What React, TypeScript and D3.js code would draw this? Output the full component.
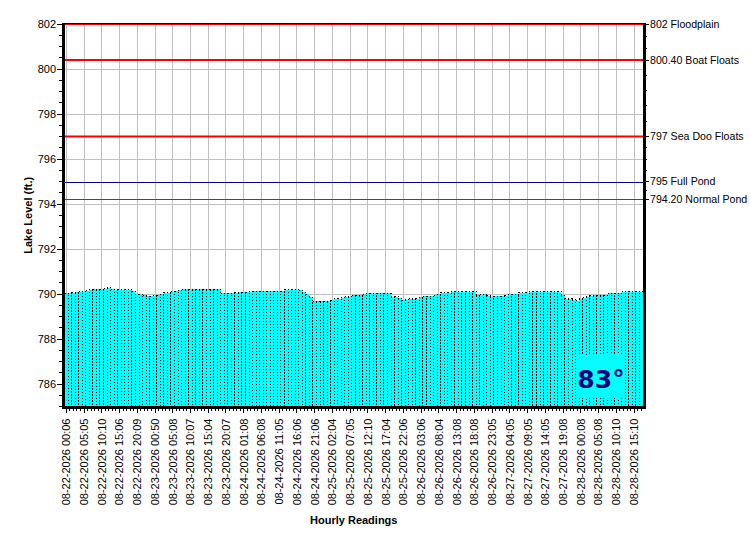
import { useEffect } from "react";
import * as d3 from "d3";

// hourly lake level readings (ft.)
const levels = [
  790.03, 790.04, 790.05, 790.07, 790.09, 790.1, 790.14, 790.18, 790.22, 790.22,
  790.22, 790.24, 790.27, 790.22, 790.18, 790.2, 790.18, 790.18, 790.18, 790.12,
  790.0, 790.0, 789.95, 789.9, 789.9, 789.92, 789.95, 789.98, 790.05, 790.06,
  790.1, 790.12, 790.16, 790.21, 790.21, 790.21, 790.21, 790.21, 790.21, 790.21,
  790.21, 790.21, 790.21, 790.21, 790.03, 790.03, 790.03, 790.03, 790.06, 790.08,
  790.08, 790.08, 790.1, 790.13, 790.13, 790.13, 790.13, 790.13, 790.13, 790.13,
  790.13, 790.13, 790.19, 790.19, 790.19, 790.19, 790.17, 790.08, 790.0, 789.85,
  789.68, 789.68, 789.68, 789.68, 789.68, 789.72, 789.78, 789.78, 789.84, 789.88,
  789.88, 789.95, 789.95, 789.95, 789.97, 790.03, 790.03, 790.03, 790.03, 790.03,
  790.03, 790.03, 789.88, 789.88, 789.82, 789.72, 789.75, 789.8, 789.8, 789.8,
  789.85, 789.9, 789.9, 789.9, 789.94, 789.98, 790.06, 790.06, 790.06, 790.09,
  790.09, 790.09, 790.09, 790.09, 790.09, 790.09, 789.95, 789.97, 790.0, 789.93,
  789.88, 789.9, 789.9, 789.9, 789.93, 790.0, 790.0, 790.0, 790.06, 790.06,
  790.06, 790.09, 790.09, 790.09, 790.09, 790.09, 790.09, 790.09, 790.09, 790.09,
  789.95, 789.8, 789.8, 789.74, 789.7, 789.8, 789.84, 789.88, 789.92, 789.95,
  789.95, 789.95, 789.95, 790.03, 790.03, 790.03, 790.03, 790.1, 790.1, 790.1,
  790.1, 790.1, 790.1,
];

// one label every 5th reading
const tickEvery = 5;
const tickLabels = [
  "08-22-2026 00:06", "08-22-2026 05:05", "08-22-2026 10:10", "08-22-2026 15:06", "08-22-2026 20:09",
  "08-23-2026 00:50", "08-23-2026 05:08", "08-23-2026 10:07", "08-23-2026 15:04", "08-23-2026 20:07",
  "08-24-2026 01:08", "08-24-2026 06:08", "08-24-2026 11:05", "08-24-2026 16:06", "08-24-2026 21:06",
  "08-25-2026 02:04", "08-25-2026 07:05", "08-25-2026 12:10", "08-25-2026 17:04", "08-25-2026 22:06",
  "08-26-2026 03:06", "08-26-2026 08:04", "08-26-2026 13:08", "08-26-2026 18:08", "08-26-2026 23:05",
  "08-27-2026 04:05", "08-27-2026 09:05", "08-27-2026 14:05", "08-27-2026 19:08",
  "08-28-2026 00:08", "08-28-2026 05:08", "08-28-2026 10:10", "08-28-2026 15:10",
];

const refLevels = [802, 800.4, 797, 795, 794.2];
const refNames = ["802 Floodplain", "800.40 Boat Floats", "797 Sea Doo Floats", "795 Full Pond", "794.20 Normal Pond"];
const refColors = ["#ff0000", "#ff0000", "#ff0000", "#000080", "#008000"];
const refWidths = [2, 2, 2, 1, 1];
const refSubdivisions = [2, 4, 3, 1];

const temperature = "83°";

const font = "'Liberation Sans', Arial, sans-serif";

export default function App() {
  useEffect(() => {
    document.body.style.margin = "0";
  }, []);

  const width = 750,
    height = 550;
  const left = 64.5,
    right = 643,
    top = 24,
    bottom = 406.5;

  const x = d3
    .scaleBand<number>()
    .domain(d3.range(levels.length))
    .range([left, right])
    .padding(0);
  const y = d3.scaleLinear().domain([785, 802]).range([bottom, top]);

  const bw = x.bandwidth();
  const cx = (i: number) => x(i)! + bw / 2;
  // snap a value to the middle of a pixel row so thin lines stay sharp
  const py = (v: number) => Math.round(y(v)) + 0.5;

  const majorY = d3.range(786, 802.01, 2);
  const minorY = d3.range(785, 802.01, 0.5);
  const labelIdx = tickLabels.map((_, k) => k * tickEvery);

  // right axis small ticks between the named levels
  const rightMinor: number[] = [];
  refSubdivisions.forEach((n, k) => {
    const a = refLevels[k],
      b = refLevels[k + 1];
    for (let j = 1; j <= n; j++) rightMinor.push(a + ((b - a) * j) / (n + 1));
  });

  return (
    <svg width={width} height={height} style={{ display: "block", background: "#fff" }} fontFamily={font}>
      <rect x={0} y={0} width={width} height={height} fill="#fff" />

      {/* grid */}
      <g stroke="#c0c0c0" strokeWidth={1} shapeRendering="crispEdges">
        {majorY.map((v) => (
          <line key={"h" + v} x1={left} x2={right} y1={y(v)} y2={y(v)} />
        ))}
        {labelIdx.map((i) => (
          <line key={"v" + i} x1={cx(i)} x2={cx(i)} y1={top} y2={bottom} />
        ))}
      </g>

      {/* bars */}
      <g shapeRendering="crispEdges">
        {levels.map((v, i) => (
          <rect
            key={i}
            x={x(i)!}
            y={y(v)}
            width={bw}
            height={bottom - y(v)}
            fill="#00ffff"
            stroke="#000"
            strokeWidth={1}
            strokeDasharray="1 2"
          />
        ))}
      </g>

      {/* reference levels */}
      {refLevels.map((v, k) => (
        <line
          key={"r" + k}
          x1={left}
          x2={right}
          y1={refWidths[k] === 1 ? py(v) : y(v)}
          y2={refWidths[k] === 1 ? py(v) : y(v)}
          stroke={refColors[k]}
          strokeWidth={refWidths[k]}
        />
      ))}

      {/* frame */}
      <g stroke="#000" shapeRendering="crispEdges">
        <line x1={left} x2={right} y1={top - 0.5} y2={top - 0.5} strokeWidth={1} />
        <line x1={63} x2={63} y1={top - 1} y2={bottom + 2} strokeWidth={3} />
        <line x1={644} x2={644} y1={top - 1} y2={bottom + 2} strokeWidth={3} />
        <line x1={62} x2={645} y1={bottom + 1} y2={bottom + 1} strokeWidth={3} />
      </g>

      {/* left axis */}
      <g stroke="#000" shapeRendering="crispEdges">
        {minorY.map((v) => (
          <line key={"m" + v} x1={59} x2={62} y1={y(v)} y2={y(v)} />
        ))}
        {majorY.map((v) => (
          <line key={"M" + v} x1={57} x2={62} y1={y(v)} y2={y(v)} />
        ))}
      </g>
      <g fontSize={11} textAnchor="end">
        {majorY.map((v) => (
          <text key={"t" + v} x={56} y={y(v)} dy="0.35em">
            {d3.format("d")(v)}
          </text>
        ))}
      </g>

      {/* right axis */}
      <g stroke="#000" shapeRendering="crispEdges">
        {rightMinor.map((v, k) => (
          <line key={"rm" + k} x1={645} x2={647} y1={y(v)} y2={y(v)} />
        ))}
        {refLevels.map((v, k) => (
          <line key={"rt" + k} x1={645} x2={649} y1={y(v)} y2={y(v)} />
        ))}
      </g>
      <g fontSize={10.6}>
        {refNames.map((n, k) => (
          <text key={"rn" + k} x={650} y={y(refLevels[k])} dy="0.35em">
            {n}
          </text>
        ))}
      </g>

      {/* x axis */}
      <g stroke="#000" shapeRendering="crispEdges">
        {levels.map((_, i) => (
          <line key={"xt" + i} x1={cx(i)} x2={cx(i)} y1={bottom + 2} y2={bottom + (i % tickEvery === 0 ? 6 : 4)} />
        ))}
      </g>
      <g fontSize={11} textAnchor="end">
        {tickLabels.map((t, k) => (
          <text
            key={"xl" + k}
            transform={`translate(${cx(labelIdx[k])},${bottom + 12}) rotate(-90)`}
            dy="0.35em"
          >
            {t}
          </text>
        ))}
      </g>

      {/* axis titles */}
      <text x={(left + right) / 2} y={524} textAnchor="middle" fontSize={11} fontWeight="bold">
        Hourly Readings
      </text>
      <text
        transform={`translate(28,${(top + bottom) / 2}) rotate(-90)`}
        textAnchor="middle"
        dy="0.35em"
        fontSize={11}
        fontWeight="bold"
      >
        Lake Level (ft.)
      </text>

      {/* temperature badge */}
      <rect x={578} y={355} width={46} height={43} fill="#00ffff" />
      <text
        x={601}
        y={388}
        textAnchor="middle"
        fontSize={25}
        fontWeight="bold"
        fill="#000080"
        fontFamily="'DejaVu Sans', Verdana, sans-serif"
      >
        {temperature}
      </text>
    </svg>
  );
}
